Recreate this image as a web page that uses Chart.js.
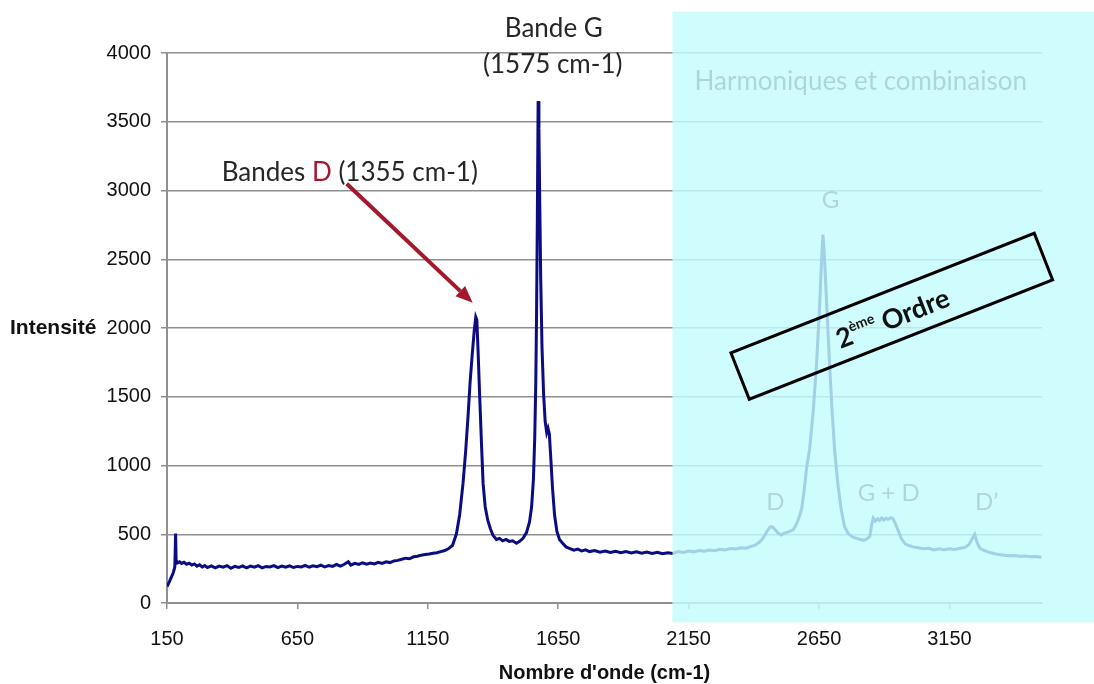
<!DOCTYPE html>
<html lang="fr">
<head>
  <meta charset="UTF-8">
  <title>Spectre Raman</title>
  <script src="https://cdn.jsdelivr.net/npm/chart.js@4.4.1/dist/chart.umd.min.js"></script>
  <style>
    body { margin: 0; background: #fff; }
  </style>
</head>
<body>
  <canvas id="spectre" width="1094" height="684"></canvas>

  <script>
    // nombre d'onde (cm-1)
    const wavenumber = [
      150, 158, 166, 174, 180, 183, 185, 190, 198, 206,
      215, 225, 235, 245, 255, 265, 275, 285, 295, 305,
      320, 335, 350, 365, 380, 395, 410, 425, 440, 455,
      470, 485, 500, 515, 530, 545, 560, 575, 590, 605,
      620, 635, 650, 665, 680, 695, 710, 725, 740, 755,
      770, 785, 800, 815, 830, 845, 855, 870, 885, 900,
      915, 930, 945, 960, 975, 990, 1005, 1020, 1035, 1050,
      1065, 1080, 1095, 1110, 1125, 1140, 1155, 1170, 1185, 1200,
      1215, 1230, 1245, 1260, 1272, 1285, 1295, 1304, 1312, 1320,
      1328, 1334, 1338, 1343, 1349, 1356, 1362, 1370, 1380, 1390,
      1400, 1413, 1425, 1437, 1450, 1462, 1475, 1490, 1502, 1515,
      1528, 1540, 1548, 1555, 1560, 1564, 1567, 1570, 1573, 1576,
      1579, 1583, 1588, 1594, 1600, 1606, 1611, 1616, 1622, 1628,
      1636, 1645, 1655, 1668, 1680, 1695, 1710, 1725, 1740, 1755,
      1770, 1790, 1810, 1830, 1850, 1870, 1890, 1910, 1930, 1950,
      1970, 1990, 2010, 2030, 2050, 2070, 2090, 2110, 2130, 2150,
      2170, 2190, 2210, 2230, 2250, 2270, 2290, 2310, 2330, 2350,
      2370, 2390, 2405, 2420, 2435, 2450, 2462, 2470, 2480, 2492,
      2505, 2518, 2530, 2542, 2552, 2565, 2575, 2584, 2593, 2603,
      2614, 2628, 2640, 2652, 2660, 2665, 2670, 2680, 2691, 2700,
      2710, 2722, 2735, 2748, 2762, 2778, 2795, 2810, 2822, 2835,
      2845, 2852, 2858, 2866, 2874, 2882, 2890, 2898, 2906, 2915,
      2925, 2934, 2943, 2953, 2965, 2980, 2995, 3010, 3030, 3050,
      3070, 3090, 3110, 3130, 3150, 3170, 3190, 3210, 3225, 3237,
      3247, 3256, 3266, 3280, 3300, 3320, 3340, 3360, 3380, 3400,
      3420, 3440, 3460, 3480, 3503
    ]

    // intensité
    const intensity = [
      120, 150, 185, 220, 262, 505, 310, 292, 300, 288,
      296, 282, 290, 276, 284, 268, 278, 262, 272, 258,
      270, 255, 268, 260, 272, 252, 266, 258, 270, 256,
      268, 260, 272, 255, 266, 262, 272, 257, 268, 260,
      270, 258, 266, 262, 274, 260, 270, 264, 276, 262,
      272, 266, 280, 268, 282, 300, 276, 288, 280, 292,
      282, 290, 284, 296, 288, 300, 294, 306, 310, 318,
      326, 322, 336, 340, 348, 352, 356, 362, 366, 374,
      382, 396, 420, 505, 640, 870, 1100, 1350, 1600, 1800,
      1980, 2080, 2060, 1820, 1500, 1150, 870, 700, 600, 540,
      492, 462, 470, 452, 462, 448, 452, 434, 448, 470,
      510, 590, 700, 900, 1200, 1600, 2100, 2800, 3650, 3450,
      2950, 2350, 1850, 1520, 1320, 1240, 1270, 1230, 1040, 840,
      640, 520, 462, 432, 408, 396, 384, 392, 378, 386,
      374, 382, 370, 378, 368, 376, 366, 374, 364, 372,
      362, 370, 360, 368, 358, 366, 360, 374, 368, 378,
      372, 382, 376, 386, 380, 390, 386, 396, 392, 402,
      398, 412, 420, 440, 470, 520, 552, 556, 538, 510,
      494, 508, 516, 524, 535, 580, 630, 690, 820, 990,
      1120, 1400, 1720, 2150, 2500, 2680, 2550, 2150, 1720, 1400,
      1110, 870, 680, 555, 505, 480, 470, 462, 456, 468,
      485, 570, 618, 596, 612, 600, 618, 604, 616, 608,
      620, 612, 575, 530, 470, 430, 418, 408, 402, 394,
      398, 386, 394, 388, 394, 390, 398, 404, 425, 465,
      498, 440, 400, 384, 370, 360, 352, 348, 344, 346,
      340, 342, 336, 338, 332
    ]

    const xTicks = [150, 650, 1150, 1650, 2150, 2650, 3150]
    const yTicks = [0, 500, 1000, 1500, 2000, 2500, 3000, 3500, 4000]

    const points = wavenumber.map((w, i) => ({ x: w, y: intensity[i] }))

    const labelFont = '"Liberation Sans", Arial, sans-serif'
    const noteFont = 'Lato, "Open Sans", sans-serif'
    const red = '#a3182c'

    // annotations, drawn on top of the chart
    const notes = {
      id: 'notes',
      afterDraw(chart) {
        const { ctx, scales: { x, y } } = chart
        const px = v => x.getPixelForValue(v)
        const py = v => y.getPixelForValue(v)
        ctx.save()
        ctx.textBaseline = 'middle'

        // y axis name, written flat
        ctx.font = 'bold 21px ' + labelFont
        ctx.fillStyle = '#111'
        ctx.textAlign = 'left'
        ctx.fillText('Intensité', 10, py(2000))

        ctx.font = '26px ' + noteFont
        ctx.fillStyle = '#262626'
        ctx.textAlign = 'center'
        ctx.fillText('Bande G', px(1633), py(4178))
        ctx.fillText('(1575 cm-1)', px(1629), py(3916))

        ctx.textAlign = 'left'
        let cx = px(360)
        const parts = [['Bandes ', '#262626'], ['D', red], [' (1355 cm-1)', '#262626']]
        for (const [t, c] of parts) {
          ctx.fillStyle = c
          ctx.fillText(t, cx, py(3130))
          cx += ctx.measureText(t).width
        }

        // arrow to the D band
        const x0 = px(839), y0 = py(3049), x1 = px(1322), y1 = py(2183)
        const a = Math.atan2(y1 - y0, x1 - x0)
        const head = 17
        ctx.strokeStyle = red
        ctx.fillStyle = red
        ctx.lineWidth = 4
        ctx.beginPath()
        ctx.moveTo(x0, y0)
        ctx.lineTo(x1 - head * Math.cos(a), y1 - head * Math.sin(a))
        ctx.stroke()
        ctx.beginPath()
        ctx.moveTo(x1, y1)
        ctx.lineTo(x1 - head * Math.cos(a) + 7 * Math.sin(a), y1 - head * Math.sin(a) - 7 * Math.cos(a))
        ctx.lineTo(x1 - head * Math.cos(a) - 7 * Math.sin(a), y1 - head * Math.sin(a) + 7 * Math.cos(a))
        ctx.closePath()
        ctx.fill()

        // second order labels (they sit under the cyan veil)
        ctx.fillStyle = '#333'
        ctx.textAlign = 'left'
        ctx.fillText('Harmoniques et combinaison', px(2173), py(3792))
        ctx.font = '24px ' + noteFont
        ctx.textAlign = 'center'
        ctx.fillText('G', px(2694), py(2926))
        ctx.fillText('D', px(2483), py(735))
        ctx.fillText('G + D', px(2917), py(801))
        ctx.fillText('D\u2019', px(3293), py(735))

        // cyan veil
        const ox = px(2088)
        ctx.fillStyle = 'rgba(196, 251, 251, 0.82)'
        ctx.fillRect(ox, py(4300), chart.width - ox, py(-140) - py(4300))

        // "2eme Ordre" box
        ctx.translate(px(2929), py(2085))
        ctx.rotate(-21.5 * Math.PI / 180)
        ctx.lineWidth = 3
        ctx.strokeStyle = '#000'
        ctx.strokeRect(-163, -25, 326, 50)
        ctx.fillStyle = '#111'
        ctx.textAlign = 'left'
        const big = 'bold 27px ' + noteFont
        const small = 'bold 14px ' + noteFont
        ctx.font = big
        const w1 = ctx.measureText('2').width
        const w3 = ctx.measureText(' Ordre').width
        ctx.font = small
        const w2 = ctx.measureText('ème').width
        let tx = -(w1 + w2 + w3) / 2
        ctx.font = big
        ctx.fillText('2', tx, 3)
        tx += w1
        ctx.font = small
        ctx.fillText('ème', tx, -5)
        tx += w2
        ctx.font = big
        ctx.fillText(' Ordre', tx, 3)
        ctx.restore()
      }
    }

    new Chart(document.getElementById('spectre'), {
      type: 'line',
      data: {
        datasets: [{
          data: points,
          borderColor: '#0b0b82',
          borderWidth: 3,
          pointRadius: 0,
          tension: 0
        }]
      },
      options: {
        responsive: false,
        animation: false,
        layout: { padding: { left: 0, right: 52, top: 53, bottom: 0 } },
        plugins: { legend: { display: false }, tooltip: { enabled: false } },
        scales: {
          x: {
            type: 'linear',
            min: 150,
            max: 3505,
            afterBuildTicks: s => { s.ticks = xTicks.map(v => ({ value: v })) },
            afterFit: s => { s.height = 81 },
            grid: { drawOnChartArea: false, drawTicks: true, tickLength: 6, color: '#8f8f8f', lineWidth: 1.5 },
            border: { color: '#8f8f8f', width: 2 },
            ticks: {
              color: '#111', padding: 18, maxRotation: 0,
              font: { family: labelFont, size: 20 },
              callback: v => String(v)
            },
            title: {
              display: true,
              text: "Nombre d'onde (cm-1)",
              color: '#111',
              padding: { top: 0, bottom: 0 },
              font: { family: labelFont, size: 20, weight: 'bold', lineHeight: 1.1 }
            }
          },
          y: {
            min: 0,
            max: 4000,
            afterBuildTicks: s => { s.ticks = yTicks.map(v => ({ value: v })) },
            afterFit: s => { s.width = 167 },
            grid: { tickLength: 6, color: '#8f8f8f', lineWidth: 1.5 },
            border: { color: '#8f8f8f', width: 2 },
            ticks: {
              color: '#111', padding: 10,
              font: { family: labelFont, size: 20 },
              callback: v => String(v)
            }
          }
        }
      },
      plugins: [notes]
    })
  </script>
</body>
</html>
